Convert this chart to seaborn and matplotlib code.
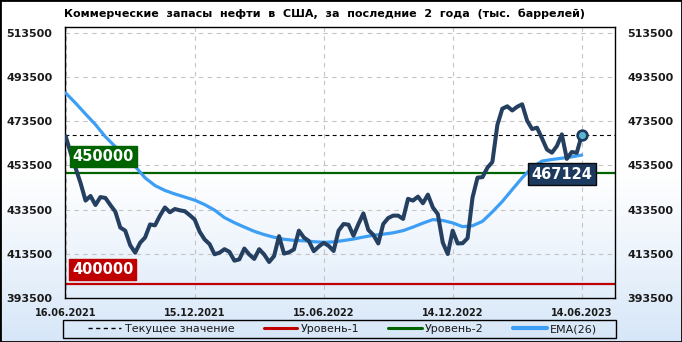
import numpy as np
import pandas as pd
import matplotlib
matplotlib.use("Agg")
import matplotlib.pyplot as plt
import seaborn as sns
from matplotlib.lines import Line2D
from matplotlib.patches import Rectangle

# ---------------- data ----------------
start_date = "2021-06-16"
stocks = [
    466700, 459100, 452300, 445500, 437600, 439700, 435600, 439200, 438800, 435600,
    432600, 425400, 424000, 417400, 414000, 418500, 420900, 426800, 426400, 430800,
    434500, 432300, 433800, 433200, 432800, 431000, 429000, 423500, 420000, 417900,
    413300, 414000, 415600, 414400, 410400, 411000, 415900, 413200, 411200, 415600,
    413200, 409800, 412500, 421500, 413600, 414200, 415500, 424000, 420900, 419300,
    414700, 416800, 418500, 417100, 414800, 424000, 427000, 426700, 421700, 427000,
    431800, 424300, 422100, 418200, 427000, 429700, 430800, 430800, 429300, 438400,
    437600, 439400, 436400, 440300, 434500, 431500, 418600, 413400, 424000, 418200,
    418300, 420600, 439000, 448000, 448200, 452500, 455100, 471800, 479200, 480300,
    478400, 480100, 481200, 473800, 470000, 470600, 465800, 460700, 459300, 462300,
    467600, 456500, 459600, 459200, 467124,
]
ema_26 = [
    486300, 481700, 476800, 472000, 466500, 462000, 458000, 453100, 447900, 444400,
    442200, 440600, 439200, 437800, 435800, 433300, 429900, 427600, 425600, 423700,
    422200, 421000, 420100, 419600, 419400, 419000, 418700, 418900, 419500, 420200,
    421100, 421900, 422400, 423000, 424000, 425600, 427400, 429000, 428600, 427500,
    425800, 426200, 428200, 432500, 437200, 442600, 447900, 452600, 455500, 456200,
    456800, 457400, 458200,
]
x_tick_labels = ["16.06.2021", "15.12.2021", "15.06.2022", "14.12.2022", "14.06.2023"]
y_ticks = [393500, 413500, 433500, 453500, 473500, 493500, 513500]
level_1 = 400000
level_2 = 450000
current_value = 467124
title = "Коммерческие  запасы  нефти  в  США,  за  последние  2  года  (тыс.  баррелей)"
legend_labels = ["Текущее значение", "Уровень-1", "Уровень-2", "EMA(26)"]

# ---------------- style ----------------
sns.set_style("white")
plt.rcParams["font.family"] = ["DejaVu Sans"]

W, H = 682, 342
fig = plt.figure(figsize=(W / 100, H / 100), dpi=100)

# background gradient
bg = fig.add_axes([0, 0, 1, 1], zorder=-10)
bg.axis("off")
rows = np.arange(H)
t = np.clip((rows - 170) / (H - 170), 0, 1) ** 1.1
top_c = np.array([1.0, 1.0, 1.0])
bot_c = np.array([0xd6, 0xe6, 0xf8]) / 255
grad = (top_c[None, :] * (1 - t[:, None]) + bot_c[None, :] * t[:, None])[:, None, :]
grad = np.repeat(grad, 2, axis=1)
bg.imshow(grad, aspect="auto", extent=[0, 1, 0, 1], interpolation="bilinear")
bg.set_xlim(0, 1)
bg.set_ylim(0, 1)

# main axes
L, R, T, B = 65, 615, 27, 298
ax = fig.add_axes([L / W, 1 - B / H, (R - L) / W, (B - T) / H])
ax.set_facecolor("none")

dates = pd.date_range(start_date, periods=len(stocks), freq="7D")
ema_dates = dates[::2][:len(ema_26)]
tick_dates = pd.to_datetime(x_tick_labels, format="%d.%m.%Y")

ax.set_ylim(393500, 516200)
ax.set_xlim(dates[0] - pd.Timedelta(days=1), dates[0] + pd.Timedelta(days=775))

# grid
for yv in y_ticks:
    ax.axhline(yv, color="#c4c4c4", lw=0.8, ls=(0, (4, 4)), zorder=0)
for xv in tick_dates:
    ax.axvline(xv, color="#c4c4c4", lw=0.8, ls=(0, (4, 4)), zorder=0)

# level lines
ax.axhline(current_value, color="black", lw=0.8, ls=(0, (3.5, 3)), zorder=2)
ax.axhline(level_1, color="#c00000", lw=1.6, zorder=2)
ax.axhline(level_2, color="#006400", lw=1.6, zorder=2)

# EMA and main series
sns.lineplot(x=ema_dates, y=ema_26, ax=ax, color="#3d9ef5", lw=2.3, zorder=3)
sns.lineplot(x=dates, y=stocks, ax=ax, color="#243f60", lw=2.9, zorder=4)
ax.plot(dates[-1], stocks[-1], "o", ms=7, mew=1.9, mfc="#5ab4d2", mec="#1b3a5c", zorder=6)

# level labels
box_font = dict(color="white", fontsize=10.5, fontweight="bold")
ax.annotate(f"{level_2}", xy=(0, level_2), xycoords=("axes fraction", "data"),
            xytext=(5.5, 6.5), textcoords="offset points", ha="left", va="bottom",
            bbox=dict(boxstyle="square,pad=0.2", fc="#006400", ec="#006400"), zorder=7, **box_font)
ax.annotate(f"{level_1}", xy=(0, level_1), xycoords=("axes fraction", "data"),
            xytext=(5, 5), textcoords="offset points", ha="left", va="bottom",
            bbox=dict(boxstyle="square,pad=0.2", fc="#c00000", ec="#c00000"), zorder=7, **box_font)
ax.annotate(f"{current_value}", xy=(dates[-1], current_value),
            xytext=(-14, -28), textcoords="offset points", ha="center", va="center",
            bbox=dict(boxstyle="square,pad=0.25", fc="#1c3a5e", ec="#0a0a0a", lw=1.0), zorder=7, **box_font)

# ticks
ax.set_yticks(y_ticks)
ax.set_yticklabels([str(v) for v in y_ticks])
ax.set_xticks(tick_dates)
ax.set_xticklabels(x_tick_labels)
ax.tick_params(axis="y", length=0, pad=9, labelsize=8, labelcolor="#1a1a1a",
               labelleft=True, labelright=True)
ax.tick_params(axis="x", length=0, pad=7, labelsize=7, labelcolor="#1a1a1a")
for lab in ax.get_yticklabels() + ax.get_xticklabels():
    lab.set_fontweight("bold")
ax.set_xlabel("")
ax.set_ylabel("")
for s in ax.spines.values():
    s.set_visible(True)
    s.set_color("black")
    s.set_linewidth(1.0)

# title
fig.text(325 / W, 1 - 14 / H, title, ha="center", va="center", fontsize=8,
         fontweight="bold", color="black")

# legend (frame drawn separately)
handles = [
    Line2D([], [], color="black", lw=1.0, ls=(0, (3, 2.5))),
    Line2D([], [], color="#c00000", lw=2.2),
    Line2D([], [], color="#006400", lw=2.2),
    Line2D([], [], color="#3d9ef5", lw=3.0),
]
leg = fig.legend(handles, legend_labels, loc="center",
                 bbox_to_anchor=(88 / W, 1 - 338 / H, (597 - 88) / W, 18 / H),
                 mode="expand", ncol=4, fontsize=8, frameon=False,
                 borderpad=0.0, handlelength=3.0, handletextpad=0.3, borderaxespad=0)
for txt in leg.get_texts():
    txt.set_color("#1a1a1a")
fig.patches.append(Rectangle((63 / W, 1 - 338 / H), (616 - 63) / W, 18 / H,
                             transform=fig.transFigure, fill=False, ec="black", lw=1.0, zorder=15))

# outer border
fig.patches.append(Rectangle((0, 0), 1, 1, transform=fig.transFigure, fill=False,
                             ec="black", lw=2.0, zorder=20))

fig.savefig("out.png", dpi=100)
